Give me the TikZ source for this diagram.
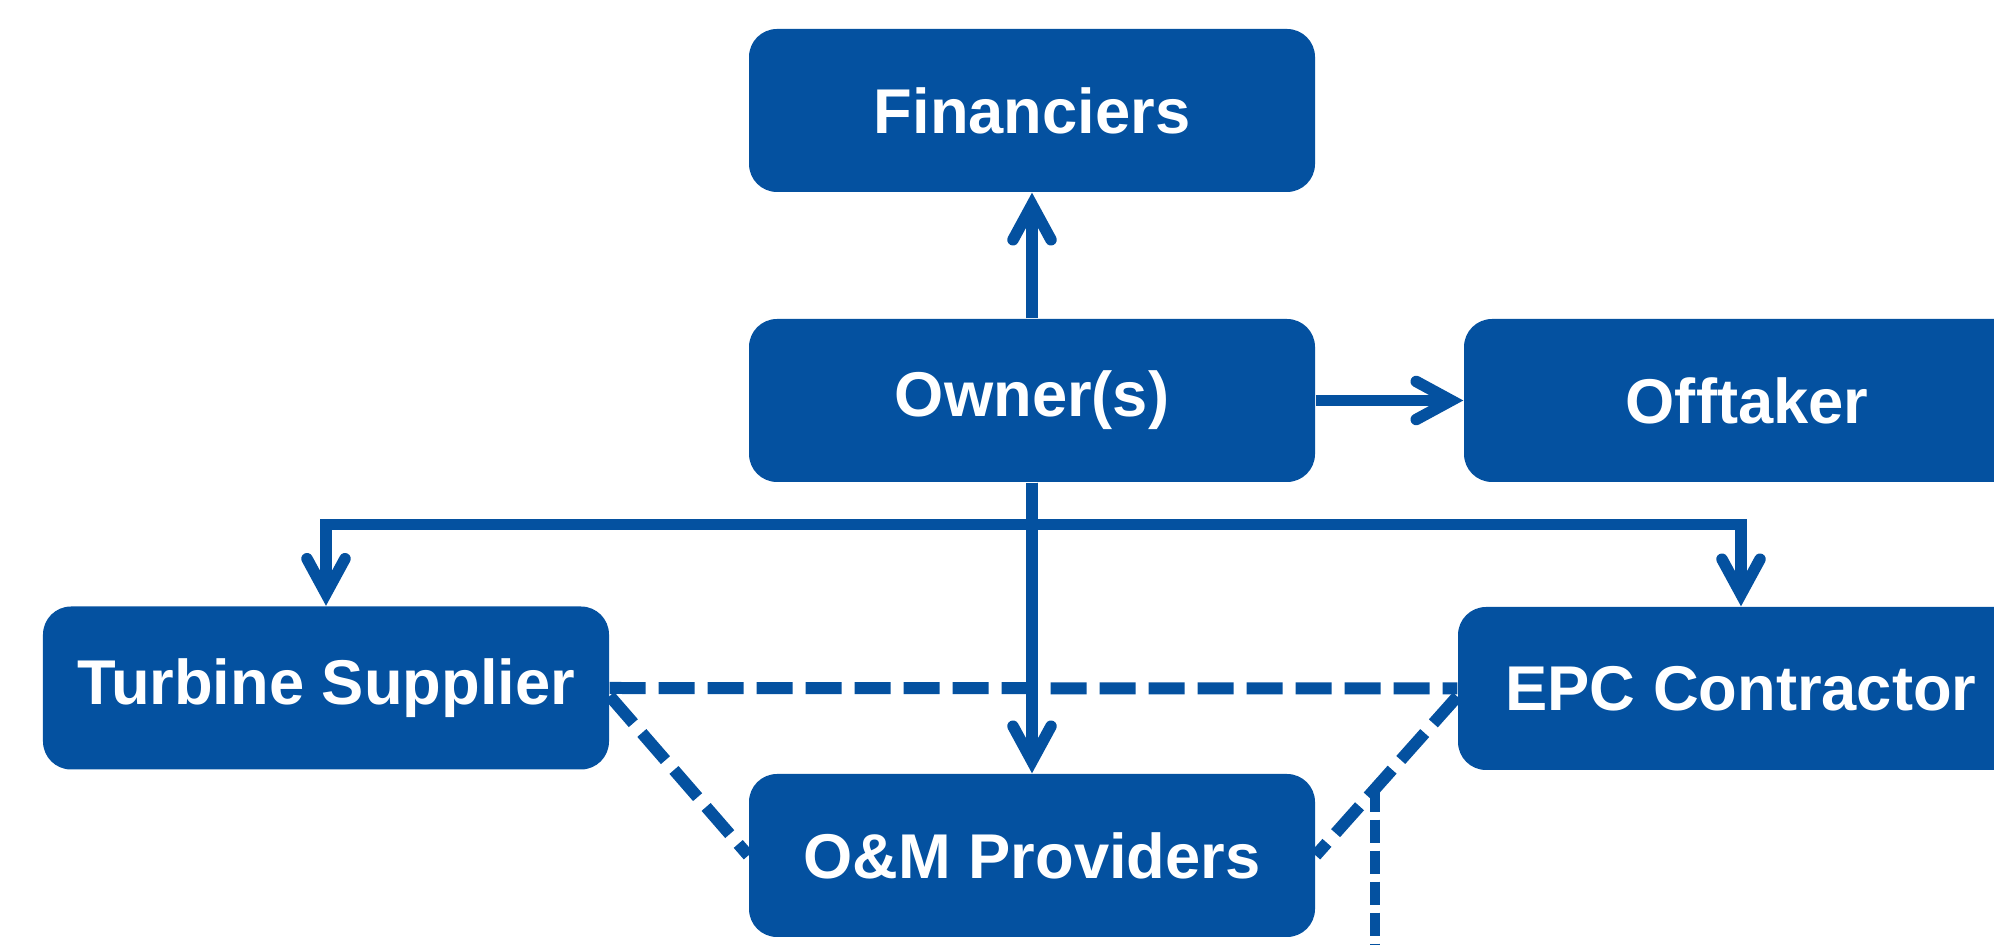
\documentclass[tikz,border=0pt]{standalone}
\usepackage{fontspec}
\setmainfont{Liberation Sans}
\usetikzlibrary{arrows.meta}
\usetikzlibrary{calc}

\definecolor{partyblue}{RGB}{4,81,160}

\begin{document}
\begin{tikzpicture}[
    party/.style={fill=partyblue, text=white, rounded corners=0.28cm,
        minimum width=5.66cm, minimum height=1.63cm, inner sep=0pt,
        font=\fontsize{18}{21.6}\selectfont\bfseries},
    link/.style={draw=partyblue, line width=0.115cm,
        -{Straight Barb[length=3.5mm, width=3.8mm, line cap=round]}},
    tie/.style={draw=partyblue, line width=0.12cm, dash pattern=on 0.36cm off 0.13cm},
    thintie/.style={draw=partyblue, line width=0.1cm, dash pattern=on 0.23cm off 0.08cm}
]
            \useasboundingbox (0,0) rectangle (19.94,-9.45);
            \clip (0,0) rectangle (19.94,-9.45);

            % the parties
            \node[party] (fin) at (10.32,-1.105) {Financiers};
            \node[party] (own) at (10.32,-4.005) {Owner(s)};
            \node[party] (off) at (17.47,-4.005) {Offtaker};
            \node[party] (turb) at (3.26,-6.88) {Turbine Supplier};
            \node[party] (epc) at (17.41,-6.885) {EPC Contractor};
            \node[party] (om) at (10.32,-8.555) {O\&M Providers};

            % contracts held by the owner
            \coordinate (split) at ([yshift=-4.2mm]own.south);
            \draw[link] (own.north) -- (fin.south);
            \draw[link] (own.east) -- (off.west);
            \draw[link] (own.south) -- (split) -| (turb.north);
            \draw[link] (own.south) -- (split) -| (epc.north);
            \draw[link] (own.south) -- (om.north);

            % interfaces between the contractors
            \draw[tie] (turb.east) -- (epc.west);
            \draw[tie] ([yshift=-0.8mm]turb.east) -- (om.west);
            \draw[tie] ([yshift=-0.8mm]epc.west) -- (om.east);
            \coordinate (drop) at ($([yshift=-0.8mm]epc.west)!0.58!(om.east)$);
            \coordinate (drop end) at ([yshift=-2cm]drop);
            \draw[thintie] (drop) -- (drop end);
        \end{tikzpicture}
\end{document}
